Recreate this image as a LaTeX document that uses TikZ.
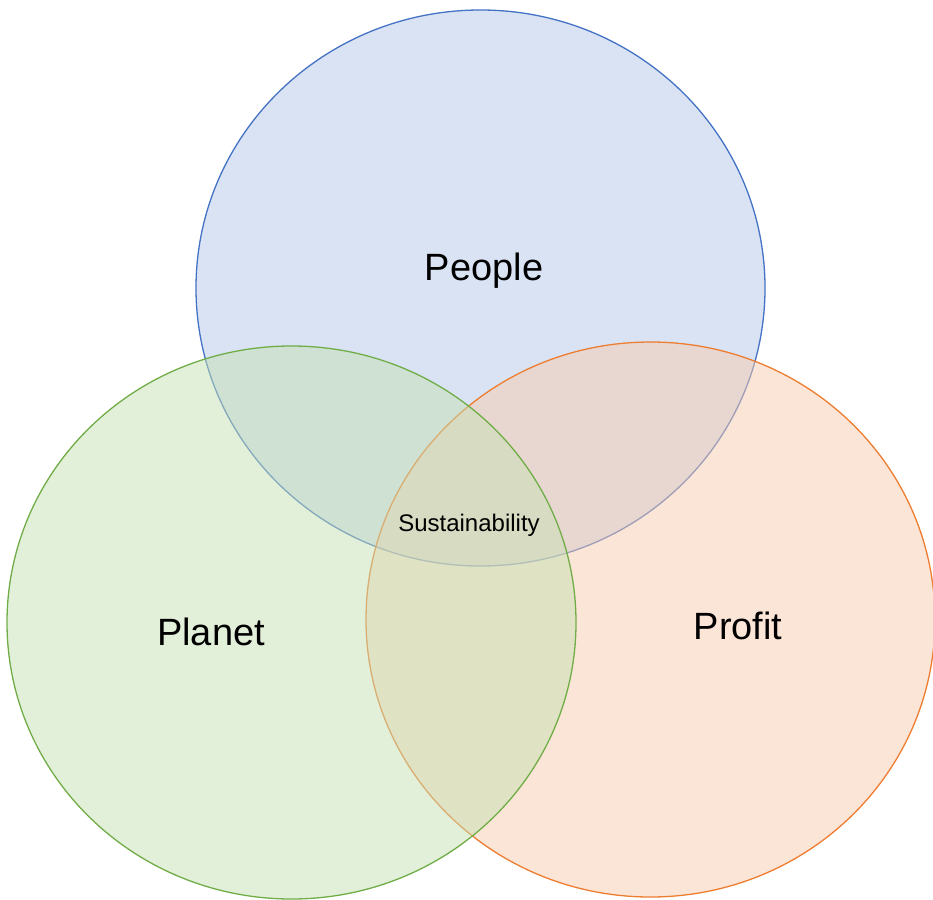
\documentclass[tikz,border=0pt]{standalone}
\usepackage{fontspec}
\setmainfont{Liberation Sans}
\definecolor{pplline}{HTML}{4472C4}
\definecolor{pplfill}{HTML}{B4C7E7}
\definecolor{plnline}{HTML}{70AD47}
\definecolor{plnfill}{HTML}{C5E0B4}
\definecolor{prfline}{HTML}{ED7D31}
\definecolor{prffill}{HTML}{F8CBAD}
\tikzset{
  setshape/.style={line width=1.3pt, fill opacity=0.5},
  biglabel/.style={anchor=base, inner sep=0pt, font=\fontsize{38}{45}\selectfont},
  smalllabel/.style={anchor=base, inner sep=0pt, font=\fontsize{24}{29}\selectfont}
}
\begin{document}
\begin{tikzpicture}[x=1pt, y=-1pt]
\useasboundingbox (0,0) rectangle (933,899);
\coordinate (cpeople) at (480.5,288);
\coordinate (cprofit) at (650.5,619.5);
\coordinate (cplanet) at (291.5,622.5);
\path[setshape, draw=pplline, fill=pplfill] (cpeople) ellipse [x radius=284.5pt, y radius=278pt];
\path[setshape, draw=prfline, fill=prffill] (cprofit) ellipse [x radius=284.5pt, y radius=277.5pt];
\path[setshape, draw=plnline, fill=plnfill] (cplanet) ellipse [x radius=284.5pt, y radius=276.5pt];
\node[biglabel] (people) at (484,280) {People};
\node[biglabel] (planet) at (211,645) {Planet};
\node[biglabel] (profit) at (738,639) {Profit};
\node[smalllabel] (sust) at (469,531) {Sustainability};
\end{tikzpicture}
\end{document}
